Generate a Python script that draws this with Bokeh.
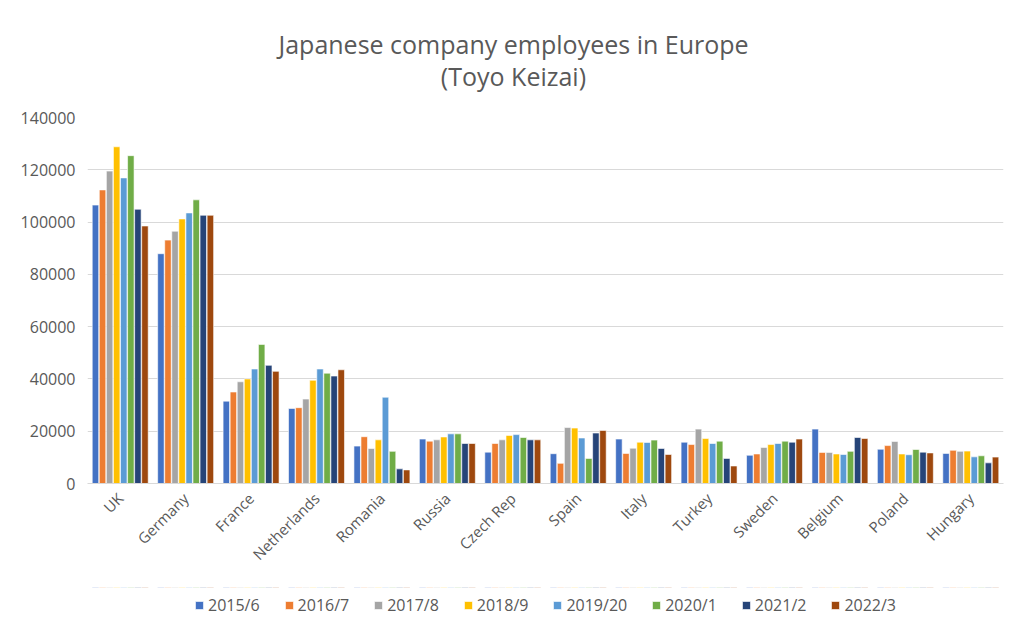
import math
from bokeh.plotting import figure
from bokeh.layouts import column
from bokeh.models import (ColumnDataSource, FactorRange, Range1d, FixedTicker,
                          BasicTickFormatter, Legend, LegendItem, Title, BoxAnnotation)
from bokeh.transform import dodge
from bokeh.embed import file_html
from bokeh.resources import INLINE

countries = ["UK", "Germany", "France", "Netherlands", "Romania", "Russia", "Czech Rep",
             "Spain", "Italy", "Turkey", "Sweden", "Belgium", "Poland", "Hungary"]
periods = ["2015/6", "2016/7", "2017/8", "2018/9", "2019/20", "2020/1", "2021/2", "2022/3"]

y2015 = [106500, 87900, 31500, 28700, 14300, 17000, 12000, 11400, 17000, 15800, 10800, 20800, 13100, 11500]
y2016 = [112300, 93100, 35000, 29000, 17900, 16200, 15300, 7700, 11500, 14900, 11300, 11900, 14500, 12700]
y2017 = [119500, 96500, 38900, 32300, 13400, 16700, 16700, 21400, 13500, 20800, 13800, 11900, 16100, 12300]
y2018 = [128800, 101200, 40000, 39500, 16700, 17800, 18400, 21200, 15800, 17200, 14900, 11300, 11300, 12400]
y2019 = [116900, 103500, 43800, 43800, 33000, 19000, 18700, 17400, 15700, 15300, 15300, 11100, 11000, 10200]
y2020 = [125400, 108500, 53200, 42200, 12300, 19000, 17600, 9600, 16600, 16200, 16200, 12300, 13000, 10600]
y2021 = [104900, 102600, 45200, 41100, 5600, 15300, 16700, 19300, 13400, 9600, 15800, 17600, 12000, 7900]
y2022 = [98500, 102600, 42900, 43500, 5200, 15300, 16700, 20300, 11100, 6700, 17000, 17200, 11700, 10100]

series = [y2015, y2016, y2017, y2018, y2019, y2020, y2021, y2022]
colors = ["#4472C4", "#ED7D31", "#A5A5A5", "#FFC000", "#5B9BD5", "#70AD47", "#264478", "#9E480E"]
yticks = [0, 20000, 40000, 60000, 80000, 100000, 120000, 140000]

data = {"country": countries}
for k, s in zip(periods, series):
    data[k] = s
source = ColumnDataSource(data)

FONT = "Open Sans"
TXT = "#595959"

p = figure(x_range=FactorRange(*countries, range_padding=0), y_range=Range1d(0, 140000),
           frame_width=916, frame_height=366, output_backend="svg", toolbar_location=None,
           min_border_left=87, min_border_right=21, min_border_top=112, min_border_bottom=104)
p.outline_line_color = None
p.border_fill_color = "white"
p.background_fill_color = "white"

n = len(periods)
bw = 0.108


def add_bars(fig):
    rs = []
    for i, (k, c) in enumerate(zip(periods, colors)):
        off = (i - (n - 1) / 2) * bw
        r = fig.vbar(x=dodge("country", off, range=fig.x_range), top=k, width=bw * 0.92,
                     source=source, fill_color=c, line_color="white", line_width=0.6)
        rs.append(r)
    return rs


add_bars(p)

p.yaxis.ticker = FixedTicker(ticks=yticks)
p.yaxis.formatter = BasicTickFormatter(use_scientific=False)
p.yaxis.axis_line_color = None
p.yaxis.major_tick_line_color = None
p.yaxis.minor_tick_line_color = None
p.yaxis.major_tick_out = 0
p.yaxis.major_label_standoff = 12
p.yaxis.major_label_text_font = FONT
p.yaxis.major_label_text_font_size = "16px"
p.yaxis.major_label_text_color = TXT

p.xaxis.axis_line_color = "#D9D9D9"
p.xaxis.major_tick_line_color = None
p.xaxis.minor_tick_line_color = None
p.xaxis.major_label_orientation = math.pi / 4
p.xaxis.major_label_standoff = 6
p.xaxis.major_label_text_font = FONT
p.xaxis.major_label_text_font_size = "15px"
p.xaxis.major_label_text_color = TXT

p.xgrid.grid_line_color = None
p.ygrid.grid_line_color = "#D9D9D9"
p.ygrid.grid_line_width = 1

pad = "\u00a0" * 25
title = Title(text="Japanese company employees in Europe\n" + pad + "(Toyo Keizai)", align="left",
              text_font=FONT, text_font_size="25px", text_color=TXT,
              text_font_style="normal", text_line_height=0.97, standoff=48, offset=191)
p.add_layout(title, "above")

# legend strip below the chart (its own small figure, bars fall outside its range)
lf = figure(x_range=FactorRange(*countries, range_padding=0), y_range=Range1d(-2, -1),
            width=1024, height=36, output_backend="svg", toolbar_location=None,
            x_axis_location=None, y_axis_location=None,
            min_border_left=0, min_border_right=0, min_border_top=0, min_border_bottom=0)
lf.outline_line_color = None
lf.xgrid.grid_line_color = None
lf.ygrid.grid_line_color = None
leg_renderers = add_bars(lf)
lf.add_layout(BoxAnnotation(fill_color="white", fill_alpha=1.0, line_color=None))

legend = Legend(items=[LegendItem(label=k, renderers=[r]) for k, r in zip(periods, leg_renderers)],
                orientation="horizontal", location="center")
legend.border_line_color = None
legend.background_fill_alpha = 0
legend.label_text_font = FONT
legend.label_text_font_size = "16px"
legend.label_text_color = TXT
legend.glyph_width = 10
legend.glyph_height = 10
legend.spacing = 24
legend.label_standoff = 4
legend.padding = 2
legend.margin = 0
lf.add_layout(legend)

layout = column(p, lf, spacing=0)
open("out.html", "w").write(file_html(layout, INLINE))
